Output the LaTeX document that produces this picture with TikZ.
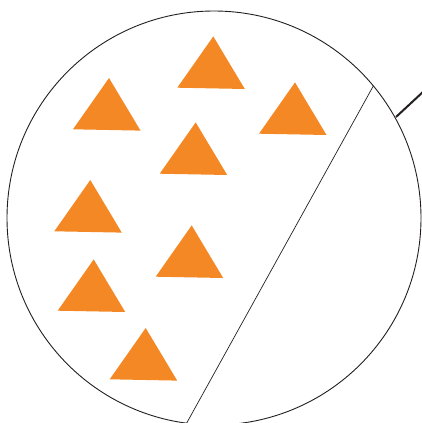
\documentclass[tikz,border=0pt]{standalone}
\definecolor{tri}{RGB}{244,136,36}
\definecolor{ink}{RGB}{35,31,32}
\tikzset{
  triangle/.pic={\fill[tri] (0,0) -- (36,-51.3) -- (67.5,1.3) -- cycle;},
  outline/.style={draw=ink, line width=0.9pt},
  chord/.style={draw=ink, line width=0.7pt},
  stick/.style={draw=ink, line width=2pt},
}
\begin{document}
\begin{tikzpicture}[x=1pt,y=-1pt]
\useasboundingbox (0,0) rectangle (422,423);
\draw[outline] (214,218) circle (207);
\coordinate (c1) at (373.3,86);
\coordinate (c2) at (186.7,423);
\draw[chord] (c1) -- (c2);
\coordinate (s1) at (396,117);
\coordinate (s2) at (424,91);
\draw[stick] (s1) -- (s2);
\pic at (177.3,87.7) {triangle};
\pic at (73,129.3) {triangle};
\pic at (259,133.7) {triangle};
\pic at (159.7,173.7) {triangle};
\pic at (54.3,231.3) {triangle};
\pic at (155.7,276.7) {triangle};
\pic at (57.7,310.7) {triangle};
\pic at (109.7,379.3) {triangle};
\end{tikzpicture}
\end{document}
